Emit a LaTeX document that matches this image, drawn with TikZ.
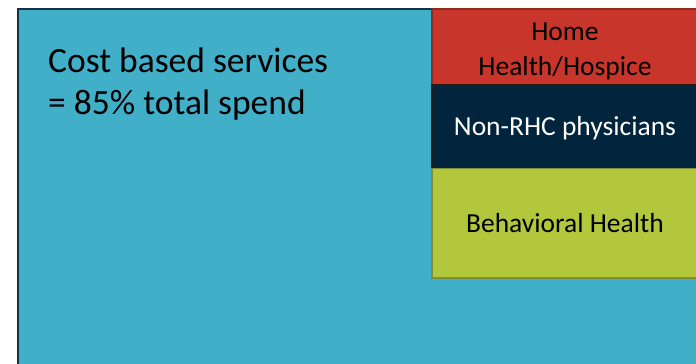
\documentclass[tikz,border=0pt]{standalone}
\usepackage{fontspec}
\setmainfont{Carlito}
\definecolor{teal}{HTML}{41AFC8}
\definecolor{tealedge}{HTML}{12324A}
\definecolor{redfill}{HTML}{C8352A}
\definecolor{rededge}{HTML}{8E2A22}
\definecolor{navyfill}{HTML}{00253D}
\definecolor{navyedge}{HTML}{2A1A12}
\definecolor{greenfill}{HTML}{B3C73D}
\definecolor{greenedge}{HTML}{7E8E30}
\tikzset{
  blocktext/.style={font=\fontsize{27.5}{34.5}\selectfont, align=center, inner sep=0pt},
}
\begin{document}
\begin{tikzpicture}[x=1pt,y=-1pt]
\useasboundingbox (0,0) rectangle (696,364);
\begin{scope}
\clip (0,0) rectangle (696,364);
\draw[fill=teal, draw=tealedge, line width=2pt] (18,9) rectangle (710,380);
\draw[fill=redfill, draw=rededge, line width=1.2pt] (432,9) rectangle (710,85);
\draw[fill=navyfill, draw=navyedge, line width=1.2pt] (432,85) rectangle (710,168.5);
\draw[fill=greenfill, draw=greenedge, line width=1.2pt] (432,168.5) rectangle (710,278);
\end{scope}
\node[anchor=base west, font=\fontsize{35.5}{42}\selectfont, align=left, inner sep=0pt] (main) at (48,114) {Cost based services\\= 85\% total spend};
\node[blocktext, anchor=base] (home) at (565,75) {Home\\Health/Hospice};
\node[blocktext, anchor=base, text=white] (nonrhc) at (565,135.7) {Non-RHC physicians};
\node[blocktext, anchor=base] (behav) at (565,232) {Behavioral Health};
\end{tikzpicture}
\end{document}
